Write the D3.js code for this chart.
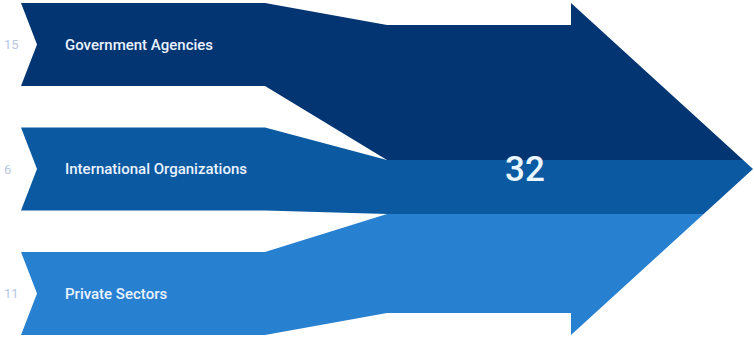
<!DOCTYPE html>
<html>
<head>
<meta charset="utf-8">
<script src="https://cdn.jsdelivr.net/npm/d3@7"></script>
<style>
  body { margin: 0; background: #fff; }
  svg { display: block; }
</style>
</head>
<body>
<svg id="chart"></svg>
<script>
// data
const categories = ['Government Agencies', 'International Organizations', 'Private Sectors'];
const values = [15, 6, 11];
const colors = ['#033572', '#0a59a1', '#2880d0'];

const width = 754, height = 337;
const total = d3.sum(values);

// layout
const leftX = 21, notchX = 37, rectEnd = 265, mergeX = 387, headX = 571, tipX = 753;
const headTop = 3, headBottom = 335;

const yBand = d3.scaleBand(categories, [3, 335]).paddingInner(1 / 3);
const yVal = d3.scaleLinear([0, total], [25, 313]);
const cum = d3.cumsum([0, ...values]);

const svg = d3.select('#chart')
  .attr('width', width)
  .attr('height', height)
  .attr('viewBox', [0, 0, width, height]);

// clip to the arrow outline on the right side
const clip = [[0, 0], [mergeX, 0], [mergeX, yVal(0)], [headX, yVal(0)], [headX, headTop],
  [tipX, (headTop + headBottom) / 2], [headX, headBottom], [headX, yVal(total)],
  [mergeX, yVal(total)], [mergeX, height], [0, height]];
svg.append('clipPath').attr('id', 'arrow-clip')
  .append('path').attr('d', d3.line()(clip) + 'Z');

const bands = categories.map((c, i) => {
  const t = yBand(c), b = t + yBand.bandwidth();
  const st = yVal(cum[i]), sb = yVal(cum[i + 1]);
  const top = i === 0 ? 0 : st;
  const bottom = i === categories.length - 1 ? height : sb;
  return [
    [leftX, t], [rectEnd, t], [mergeX, st], [mergeX, top], [width + 5, top],
    [width + 5, bottom], [mergeX, bottom], [mergeX, sb], [rectEnd, b], [leftX, b],
    [notchX, (t + b) / 2]
  ];
});

svg.append('g')
  .attr('clip-path', 'url(#arrow-clip)')
  .selectAll('path')
  .data(bands)
  .join('path')
    .attr('d', d => d3.line()(d) + 'Z')
    .attr('fill', (d, i) => colors[i]);

// category labels
svg.append('g')
  .selectAll('text')
  .data(categories)
  .join('text')
    .attr('x', 65)
    .attr('y', c => yBand(c) + yBand.bandwidth() / 2)
    .attr('dy', '0.35em')
    .attr('fill', '#eaf2ff')
    .attr('font-family', 'Roboto, sans-serif')
    .attr('font-weight', 500)
    .attr('font-size', 15)
    .text(c => c);

// values on the left
svg.append('g')
  .selectAll('text')
  .data(categories)
  .join('text')
    .attr('x', 4)
    .attr('y', c => yBand(c) + yBand.bandwidth() / 2)
    .attr('dy', '0.35em')
    .attr('fill', '#b7c7e3')
    .attr('font-family', 'Roboto, sans-serif')
    .attr('font-size', 13)
    .text((c, i) => values[i]);

// total
svg.append('text')
  .attr('x', 525)
  .attr('y', (headTop + headBottom) / 2)
  .attr('dy', '0.35em')
  .attr('text-anchor', 'middle')
  .attr('fill', '#eaf6ff')
  .attr('font-family', 'Roboto, sans-serif')
  .attr('font-weight', 500)
  .attr('font-size', 35)
  .text(total);
</script>
</body>
</html>
